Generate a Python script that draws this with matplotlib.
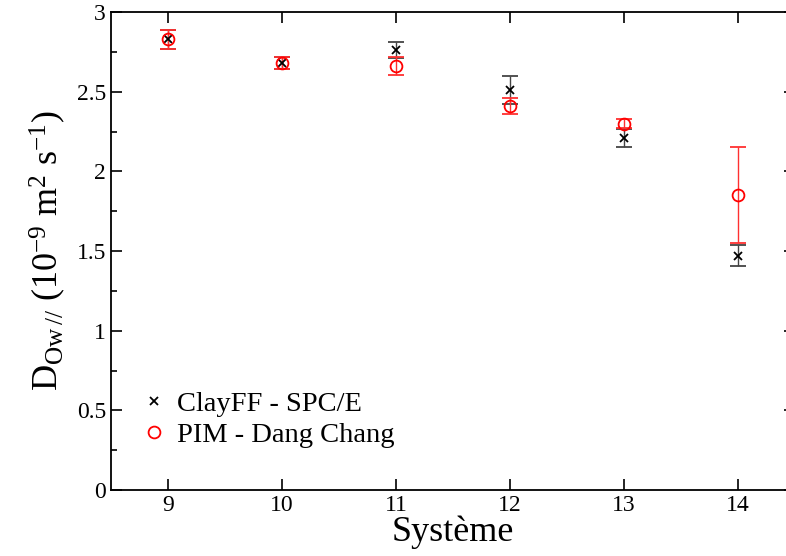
import numpy as np
import matplotlib
matplotlib.use("Agg")
import matplotlib.pyplot as plt
from matplotlib.ticker import MultipleLocator

plt.rcParams['font.family'] = ['Liberation Serif', 'DejaVu Serif']
plt.rcParams['mathtext.fontset'] = 'custom'
plt.rcParams['mathtext.rm'] = 'Liberation Serif'
plt.rcParams['mathtext.it'] = 'Liberation Serif'

# Systems on the x axis
systems = np.array([9, 10, 11, 12, 13, 14])
# ClayFF - SPC/E diffusion coefficients and uncertainties
clayff = np.array([2.83, 2.68, 2.76, 2.51, 2.21, 1.47])
clayffErr = np.array([0.06, 0.04, 0.05, 0.09, 0.055, 0.065])
# PIM - Dang Chang diffusion coefficients and uncertainties
pim = np.array([2.83, 2.68, 2.66, 2.41, 2.30, 1.85])
pimErr = np.array([0.06, 0.04, 0.055, 0.048, 0.03, 0.30])

fig = plt.figure(figsize=(7.86, 5.56), dpi=100)
ax = fig.add_axes([0.1412, 0.1187, 0.870, 0.8597])

ax.errorbar(systems, clayff, yerr=clayffErr, fmt='x', color='black', ecolor='#444444',
            markersize=6, markeredgewidth=1.3, elinewidth=1.0, capsize=6, capthick=1.0,
            label="ClayFF - SPC/E")
ax.errorbar(systems, pim, yerr=pimErr, fmt='o', color='red', ecolor='#ff3030',
            markerfacecolor='none', markersize=8.5, markeredgewidth=1.3, elinewidth=1.0,
            capsize=6, capthick=1.0, label="PIM - Dang Chang")

ax.set_xlim(8.5, 14.5)
ax.set_ylim(0, 3)
ax.xaxis.set_major_locator(MultipleLocator(1))
ax.yaxis.set_minor_locator(MultipleLocator(0.25))
ax.set_yticks([0, 0.5, 1, 1.5, 2, 2.5, 3])
ax.set_yticklabels(["0", "0.5", "1", "1.5", "2", "2.5", "3"])
ax.tick_params(which='both', direction='in', top=True, right=True, labelsize=17)
ax.tick_params(which='major', length=8, width=1.2)
ax.tick_params(which='minor', length=4, width=1.2)
for s in ax.spines.values():
    s.set_linewidth(1.3)

ax.set_xlabel("Système", fontsize=26, labelpad=0)
ax.set_ylabel(r"D$_{\mathrm{Ow\,//}}$ (10$^{\mathrm{-9}}$ m$^{\mathrm{2}}$ s$^{\mathrm{-1}}$)",
              fontsize=26, labelpad=6)

handles, labels = ax.get_legend_handles_labels()
handles = [h[0] for h in handles]
ax.legend(handles, labels, loc='lower left', bbox_to_anchor=(0.005, 0.035), frameon=False,
          fontsize=20.5, handletextpad=0.3, handlelength=1.0, labelspacing=0.15)

fig.savefig("out.png", dpi=100)
